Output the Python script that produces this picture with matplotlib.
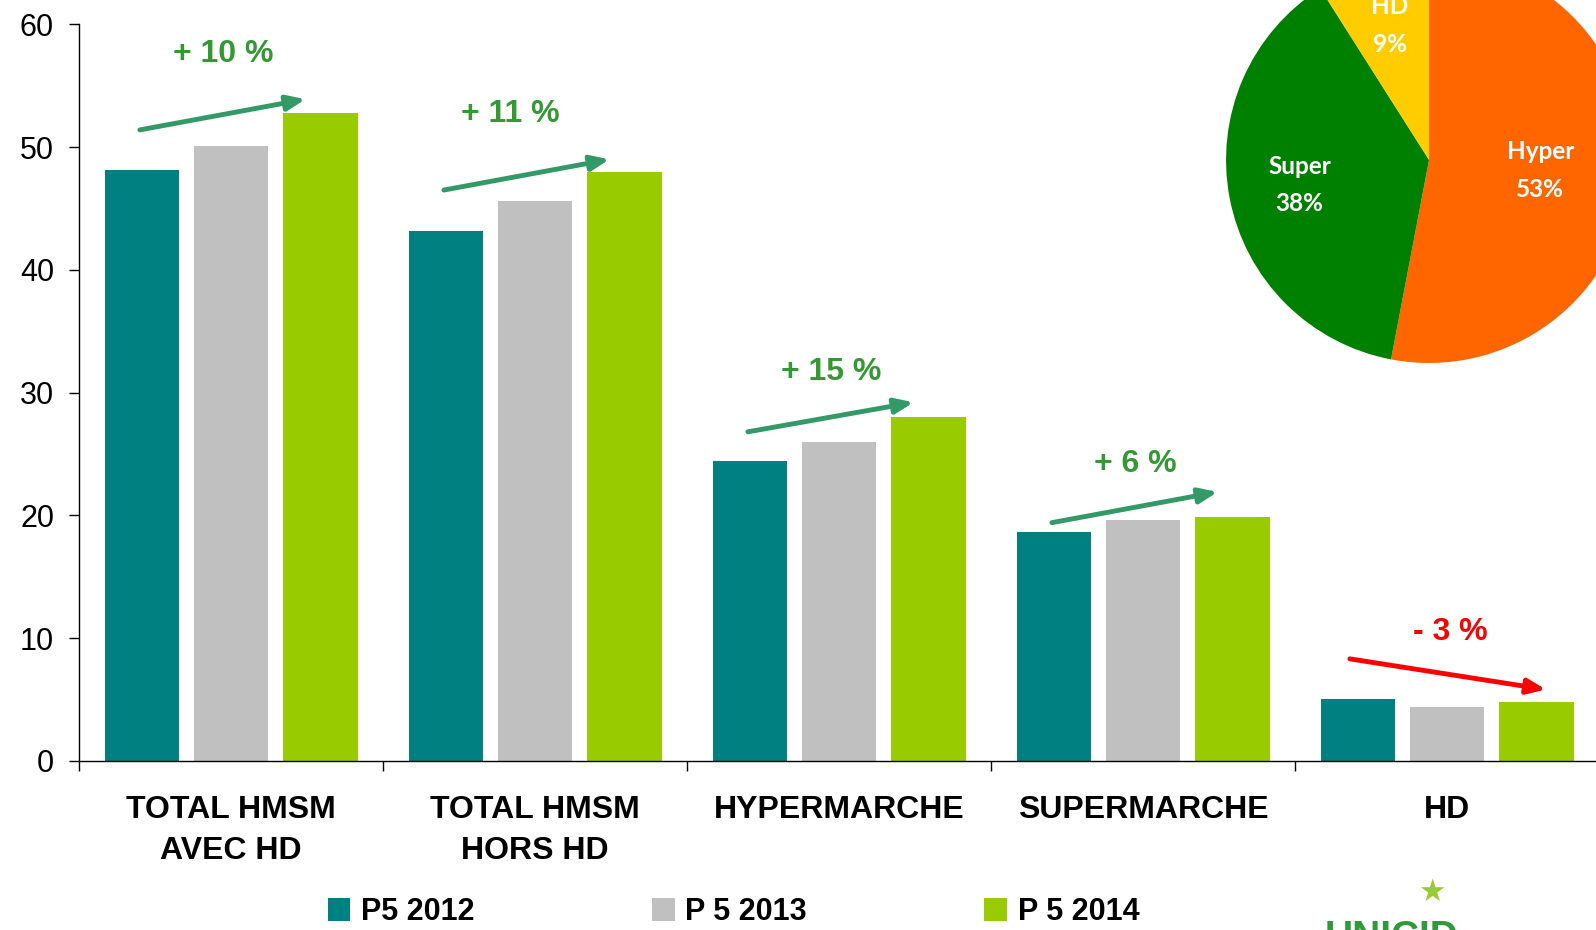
import numpy as np
import matplotlib
matplotlib.use('Agg')
import matplotlib.pyplot as plt

# data
categories = ['TOTAL HMSM\nAVEC HD', 'TOTAL HMSM\nHORS HD', 'HYPERMARCHE', 'SUPERMARCHE', 'HD']
p5_2012 = [48.1, 43.2, 24.4, 18.6, 5.0]
p5_2013 = [50.1, 45.6, 26.0, 19.6, 4.4]
p5_2014 = [52.8, 48.0, 28.0, 19.9, 4.8]
series_names = ['P5 2012', 'P 5 2013', 'P 5 2014']
evolution = ['+ 10 %', '+ 11 %', '+ 15 %', '+ 6 %', '- 3 %']
label_y = [57.6, 52.7, 31.7, 24.2, 10.5]
arrow_y0 = [51.4, 46.5, 26.8, 19.4, 8.3]
arrow_y1 = [53.9, 49.0, 29.2, 21.9, 5.8]

pie_labels = ['Hyper', 'Super', 'HD']
pie_shares = [53, 38, 9]

bar_colors = ['#008080', '#C0C0C0', '#99CC00']
pie_colors = ['#FF6600', '#008000', '#FFCC00']

plt.rcParams['font.family'] = ['Liberation Sans', 'DejaVu Sans']

fig = plt.figure(figsize=(15.96, 9.3), dpi=100)
ax = fig.add_axes([0.0495, 0.1820, 0.9525, 0.7918])

x = np.arange(len(categories))
w = 0.244
step = 0.294
bars = []
for k, vals in enumerate([p5_2012, p5_2013, p5_2014]):
    b = ax.bar(x + (k - 1) * step, vals, w, color=bar_colors[k], label=series_names[k], zorder=2)
    bars.append(b)

# evolution arrows and labels
for i in range(len(categories)):
    up = not evolution[i].startswith('-')
    col = '#339966' if up else '#FF0000'
    tcol = '#339933' if up else '#FF0000'
    dx0, dx1 = (-0.30, 0.245) if up else (-0.32, 0.325)
    ax.annotate('', xy=(x[i] + dx1, arrow_y1[i]), xytext=(x[i] + dx0, arrow_y0[i]),
                arrowprops=dict(arrowstyle='-|>,head_length=1.1,head_width=0.45',
                                color=col, lw=3.5, shrinkA=0, shrinkB=0))
    off = -0.025 if up else 0.01
    if i == 1:
        off = -0.08
    ax.text(x[i] + off, label_y[i], evolution[i], color=tcol, fontsize=23,
            fontweight='bold', ha='center', va='center')

ax.set_xlim(-0.5, 4.5)
ax.set_ylim(0, 60)
ax.set_yticks([0, 10, 20, 30, 40, 50, 60])
ax.tick_params(axis='y', labelsize=22, length=7, width=1, pad=11)
ax.set_xticks(np.arange(-0.5, 5, 1.0))
ax.set_xticklabels([])
ax.tick_params(axis='x', which='major', length=7, width=1, direction='out')
ax.set_xticks(x, minor=True)
ax.set_xticklabels(categories, minor=True, fontsize=23, fontweight='bold', linespacing=1.45)
ax.tick_params(axis='x', which='minor', length=0, pad=25)
for s in ['top', 'right']:
    ax.spines[s].set_visible(False)
for s in ['left', 'bottom']:
    ax.spines[s].set_color('#000000')
    ax.spines[s].set_linewidth(1)

leg = fig.legend(handles=bars, labels=series_names, loc='center left',
                 bbox_to_anchor=(0.188, 0.019), ncol=3, frameon=False,
                 handlelength=0.75, handleheight=0.75, handletextpad=0.35,
                 columnspacing=5.8, prop={'weight': 'bold', 'size': 22})

# pie
pax = fig.add_axes([0.7682, 0.6097, 0.2544, 0.4366])
wedges, _ = pax.pie(pie_shares, colors=pie_colors, startangle=90, counterclock=False,
                    radius=1, wedgeprops=dict(linewidth=0))
dists = [0.55, 0.65, 0.69]
for wdg, lab, share, d in zip(wedges, pie_labels, pie_shares, dists):
    ang = np.deg2rad((wdg.theta1 + wdg.theta2) / 2)
    pax.text(d * np.cos(ang), d * np.sin(ang), f'{lab}\n{share}%', color='white',
             fontsize=17.5, fontweight='bold', ha='center', va='center', linespacing=1.75,
             family=['Lato', 'DejaVu Sans'])
pax.set_xlim(-1, 1)
pax.set_ylim(-1, 1)
pax.set_aspect('equal')
pax.axis('off')

# logo fragment
fig.text(0.897, 0.04, '\u2605', color='#99CC33', fontsize=22, ha='center', va='center')
fig.text(0.872, -0.009, 'UNICID', color='#2E9A3A', fontsize=28, fontweight='bold',
         ha='center', va='center')

fig.savefig('out.png', dpi=100)
